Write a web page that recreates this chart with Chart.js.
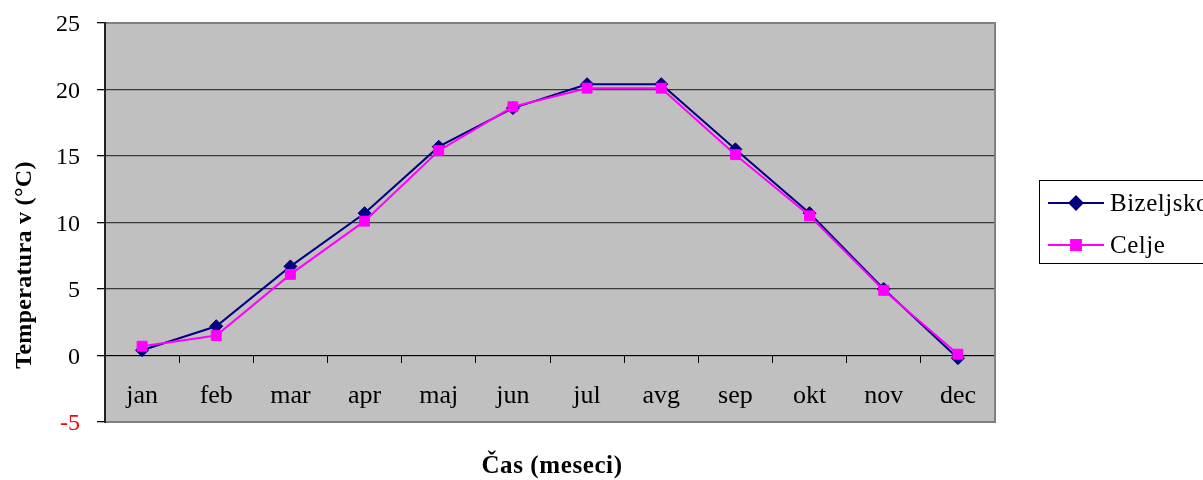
<!DOCTYPE html>
<html>
<head>
<meta charset="utf-8">
<script src="https://cdn.jsdelivr.net/npm/chart.js@4/dist/chart.umd.min.js"></script>
<style>
  html, body { margin: 0; padding: 0; background: #ffffff; }
  #wrap { width: 1203px; height: 480px; }
</style>
</head>
<body>
<div id="wrap"><canvas id="chart" width="1203" height="480"></canvas></div>
<script>
const months = ['jan', 'feb', 'mar', 'apr', 'maj', 'jun', 'jul', 'avg', 'sep', 'okt', 'nov', 'dec'];
const bizeljsko = [0.4, 2.2, 6.7, 10.7, 15.7, 18.6, 20.4, 20.4, 15.5, 10.7, 5.0, -0.2];
const celje = [0.7, 1.5, 6.1, 10.1, 15.4, 18.7, 20.1, 20.1, 15.1, 10.5, 4.9, 0.1];
const seriesNames = ['Bizeljsko', 'Celje'];
const yTitle = 'Temperatura v (°C)';
const xTitle = 'Čas (meseci)';

const SERIF = '"Liberation Serif", "Times New Roman", serif';

// Keep the plot rectangle fixed by the layout padding alone
function noScalePadding(scale) {
  scale.paddingTop = 0;
  scale.paddingBottom = 0;
  scale.paddingLeft = 0;
  scale.paddingRight = 0;
}

// Plot frame, axis titles and the boxed legend at the right
const extras = {
  id: 'extras',
  beforeDraw(chart) {
    const { ctx, chartArea: a } = chart;
    ctx.save();
    ctx.fillStyle = '#c0c0c0';
    ctx.fillRect(a.left, a.top, a.right - a.left, a.bottom - a.top);
    ctx.restore();
  },
  afterDraw(chart) {
    const { ctx, chartArea: a } = chart;
    ctx.save();
    // frame: grey top/right/bottom, dark left axis
    ctx.strokeStyle = '#808080';
    ctx.lineWidth = 2;
    ctx.beginPath();
    ctx.moveTo(a.left, a.top);
    ctx.lineTo(a.right, a.top);
    ctx.lineTo(a.right, a.bottom);
    ctx.lineTo(a.left, a.bottom);
    ctx.stroke();
    ctx.strokeStyle = '#222222';
    ctx.lineWidth = 2;
    ctx.beginPath();
    ctx.moveTo(a.left, a.top - 1);
    ctx.lineTo(a.left, a.bottom + 1);
    ctx.stroke();

    // axis titles
    ctx.fillStyle = '#000000';
    ctx.textAlign = 'center';
    ctx.textBaseline = 'middle';
    ctx.font = 'bold 25px ' + SERIF;
    ctx.letterSpacing = '0.6px';
    ctx.fillText(xTitle, (a.left + a.right) / 2 + 2, 467);
    ctx.font = 'bold 24px ' + SERIF;
    ctx.letterSpacing = '0.3px';
    ctx.translate(25, 265);
    ctx.rotate(-Math.PI / 2);
    ctx.fillText(yTitle, 0, 0);
    ctx.restore();

    // legend
    ctx.save();
    const bx = 1039, by = 180, bw = 180, bh = 83;
    ctx.strokeStyle = '#000000';
    ctx.lineWidth = 1;
    ctx.strokeRect(bx + 0.5, by + 0.5, bw, bh);
    ctx.font = '25px ' + SERIF;
    ctx.letterSpacing = '0.5px';
    ctx.textAlign = 'left';
    ctx.textBaseline = 'middle';
    const rows = [203, 245];
    seriesNames.forEach((name, i) => {
      const ds = chart.data.datasets.find(d => d.label === name);
      const y = rows[i];
      ctx.strokeStyle = ds.borderColor;
      ctx.lineWidth = 2;
      ctx.beginPath();
      ctx.moveTo(1048, y);
      ctx.lineTo(1104, y);
      ctx.stroke();
      Chart.helpers.drawPoint(ctx, {
        pointStyle: ds.pointStyle,
        radius: ds.pointRadius,
        borderWidth: 1
      }, 1076, y);
      ctx.fillStyle = ds.pointBackgroundColor;
      ctx.strokeStyle = ds.pointBorderColor;
      ctx.fill();
      ctx.fillStyle = '#000000';
      ctx.fillText(name, 1110, y + 1);
    });
    ctx.restore();
  }
};

new Chart(document.getElementById('chart'), {
  type: 'line',
  data: {
    labels: months,
    datasets: [
      {
        label: seriesNames[0],
        data: bizeljsko,
        borderColor: '#000080',
        backgroundColor: '#000080',
        pointBackgroundColor: '#000080',
        pointBorderColor: '#000080',
        borderWidth: 2,
        pointStyle: 'rectRot',
        pointRadius: 6.5,
        pointBorderWidth: 1,
        tension: 0,
        order: 2
      },
      {
        label: seriesNames[1],
        data: celje,
        borderColor: '#ff00ff',
        backgroundColor: '#ff00ff',
        pointBackgroundColor: '#ff00ff',
        pointBorderColor: '#ff00ff',
        borderWidth: 2,
        pointStyle: 'rect',
        pointRadius: 7,
        pointBorderWidth: 1,
        tension: 0,
        order: 1
      }
    ]
  },
  options: {
    responsive: false,
    animation: false,
    events: [],
    layout: { padding: { left: 0, top: 23, right: 208, bottom: 58 } },
    plugins: {
      legend: { display: false },
      tooltip: { enabled: false },
      title: { display: false }
    },
    scales: {
      x: {
        type: 'category',
        position: { y: 0 },
        offset: true,
        afterFit: noScalePadding,
        grid: {
          display: true,
          offset: true,
          drawOnChartArea: false,
          drawTicks: true,
          tickLength: 7,
          color: '#000000',
          lineWidth: 1
        },
        border: { display: true, color: '#000000', width: 1 },
        ticks: {
          color: '#000000',
          padding: 18,
          maxRotation: 0,
          autoSkip: false,
          font: { family: SERIF, size: 26 }
        }
      },
      y: {
        min: -5,
        max: 25,
        afterFit(scale) {
          scale.width = 105;
          noScalePadding(scale);
        },
        grid: {
          color: '#3a3a3a',
          lineWidth: 1.3,
          drawTicks: true,
          tickLength: 8,
          tickColor: '#000000'
        },
        border: { display: true, color: '#000000', width: 1 },
        ticks: {
          stepSize: 5,
          padding: 17,
          labelOffset: 2,
          color: (c) => (c.tick && c.tick.value < 0 ? '#ff0000' : '#000000'),
          font: { family: SERIF, size: 24 }
        }
      }
    }
  },
  plugins: [extras]
});
</script>
</body>
</html>
